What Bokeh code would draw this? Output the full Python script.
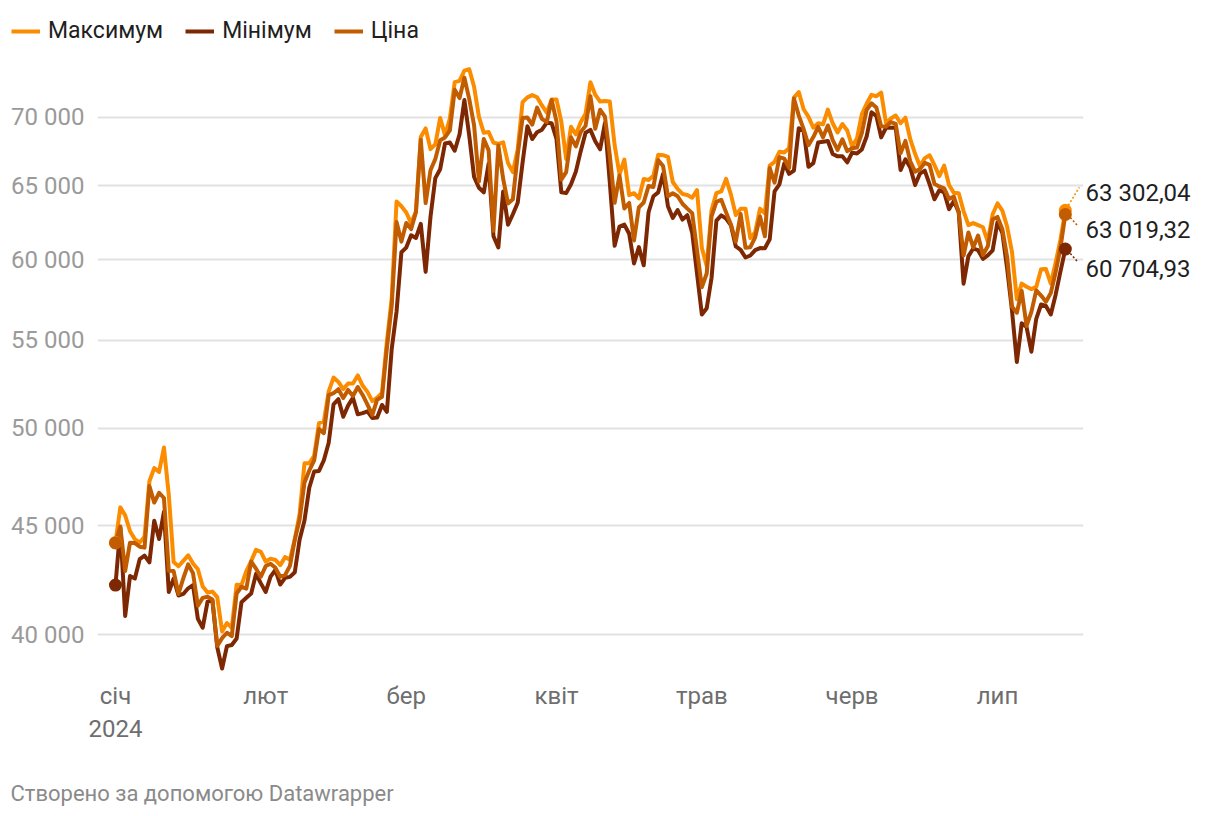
import math
import pandas as pd
from bokeh.plotting import figure
from bokeh.layouts import column
from bokeh.models import Range1d, FixedTicker, Legend, LegendItem, LogAxis, Label
from bokeh.embed import file_html
from bokeh.resources import INLINE

# ---------------- data (daily, 2024-01-01 .. 2024-07-15) ----------------
start_date = "2024-01-01"

high = [
    # Jan
    44184, 45900, 45503, 44729, 44340, 44187, 44468, 47218, 47890, 47696,
    48970, 46516, 43260, 43065, 43319, 43578, 43198, 42930, 42134, 41860,
    41900, 41650, 40129, 40498, 40285, 42209, 42197, 42842, 43305, 43838, 43745,
    # Feb
    43285, 43422, 43359, 43119, 43494, 43375, 44341, 45575, 48145, 48150,
    48531, 50285, 50368, 52043, 52821, 52573, 52166, 52483, 52489, 52945,
    52371, 52010, 51497, 51684, 51954, 54910, 57537, 63913, 63585,
    # Mar
    63155, 62434, 63230, 68537, 69170, 67637, 67985, 69958, 68673, 69916,
    72722, 72826, 73637, 73750, 72357, 70044, 68845, 68897, 68106, 68029,
    68133, 66623, 65976, 67625, 71170, 71535, 71711, 71546, 70913, 70355, 71366,
    # Apr
    71377, 69674, 66914, 69291, 68725, 69629, 70284, 72715, 71743, 71213,
    71256, 71222, 67931, 65824, 66878, 64355, 64486, 64125, 65481, 65419,
    65723, 67233, 67199, 67075, 65275, 64789, 64434, 64362, 64174, 64703,
    # May
    60780, 59602, 63320, 64494, 64610, 65494, 64390, 62986, 63404, 63420,
    61430, 61818, 63422, 63096, 66441, 66712, 67441, 67400, 67700, 71515,
    71946, 70623, 70041, 69220, 69562, 69484, 70597, 69556, 68866, 69504, 69018,
    # Jun
    67839, 68410, 70230, 71047, 71735, 71625, 71907, 69563, 69916, 70146,
    69562, 69977, 68367, 67294, 66402, 66983, 67188, 66479, 65695, 66438,
    65068, 64513, 64491, 63255, 62293, 62434, 62293, 62153, 61197, 63036,
    # Jul
    63777, 63285, 62188, 60499, 57497, 58475, 58276, 58131, 58269, 59400,
    59404, 58483, 59821, 61329, 63302.04,
]

low = [
    # Jan
    42196, 44900, 40813, 42614, 42500, 43398, 43565, 43244, 45244, 44355,
    45678, 41884, 42489, 41724, 41794, 42050, 42200, 40683, 40297, 41447,
    41500, 39450, 38555, 39500, 39550, 39825, 41424, 41620, 41818, 42711, 42276,
    # Feb
    41885, 42585, 42890, 42222, 42532, 42574, 42788, 44332, 45254, 46900,
    47716, 47746, 48300, 49225, 51315, 51600, 50626, 51243, 51676, 50763,
    50832, 50926, 50561, 50585, 51280, 50901, 54484, 56738, 60498,
    # Mar
    60802, 61614, 61435, 62386, 59224, 62848, 65551, 66184, 68053, 68131,
    67519, 68728, 71334, 68620, 65630, 64871, 64545, 66594, 61555, 60807,
    64611, 62330, 63038, 63825, 66650, 69335, 68381, 68892, 69076, 69601, 69562,
    # Apr
    68389, 64550, 64494, 65113, 66011, 67491, 68852, 69064, 68212, 67624,
    69571, 65254, 60919, 62205, 62333, 61716, 59768, 60833, 59651, 63172,
    64277, 64548, 65865, 63590, 62783, 63323, 62676, 62969, 61795, 59120,
    # May
    56555, 56937, 58849, 62599, 62955, 62746, 62285, 60877, 60649, 60152,
    60284, 60632, 60769, 60760, 61355, 64613, 65112, 66600, 65857, 66086,
    69191, 68977, 66356, 66622, 68128, 68183, 68233, 67279, 67113, 67118, 66676,
    # Jun
    67386, 67316, 67612, 68564, 70390, 70119, 68507, 69222, 69225, 69232,
    66123, 66902, 66304, 65057, 65872, 66085, 65104, 64066, 64693, 64547,
    63379, 63944, 63180, 58474, 60239, 60739, 60632, 60063, 60293, 60616,
    # Jul
    62495, 61780, 59419, 56777, 53717, 56018, 55793, 54321, 56290, 57170,
    57079, 56554, 57779, 59262, 60704.93,
]

price = [
    # Jan
    44168, 44958, 42848, 44180, 44162, 43989, 43943, 46970, 46139, 46627,
    46368, 42853, 42842, 41796, 42511, 43155, 42742, 41263, 41618, 41665,
    41545, 39508, 39845, 40077, 39934, 41816, 42120, 42035, 43288, 42952, 42582,
    # Feb
    43075, 43185, 42992, 42583, 42658, 43084, 44318, 45301, 47147, 47771,
    48293, 49958, 49742, 51826, 51938, 52160, 51663, 52122, 51779, 52284,
    51839, 51304, 50731, 51572, 51733, 54522, 57085, 62504, 61198,
    # Mar
    62440, 62029, 63168, 68330, 63801, 66107, 66925, 68300, 68499, 69020,
    72123, 71481, 73083, 71397, 69403, 65315, 68391, 67548, 61912, 67913,
    65491, 63778, 64062, 67234, 69958, 69987, 69456, 70744, 69893, 69646, 71334,
    # Apr
    69703, 65447, 65981, 68508, 67837, 68896, 69362, 71632, 69139, 70587,
    70060, 67195, 63821, 65738, 63426, 63811, 61276, 63512, 63843, 64994,
    64927, 66837, 66408, 64277, 64482, 64276, 63756, 63420, 63114, 60636,
    # May
    58254, 59123, 62889, 63892, 64031, 63162, 62334, 61187, 63050, 60793,
    60826, 61484, 62886, 61552, 66267, 65232, 67051, 66941, 66278, 71448,
    70136, 69122, 67929, 68527, 69285, 68508, 69394, 68296, 67578, 68364, 67492,
    # Jun
    67707, 67751, 68804, 70567, 71082, 70757, 69342, 69306, 69648, 69507,
    67332, 68241, 66756, 66012, 66191, 66639, 66490, 65140, 64960, 64828,
    64096, 64252, 63180, 60277, 61804, 60811, 61604, 60320, 60887, 62678,
    # Jul
    62851, 62029, 60173, 57035, 56662, 58009, 55857, 56714, 58052, 57725,
    57339, 57889, 59204, 60797, 63019.32,
]

series_names = ["Максимум", "Мінімум", "Ціна"]
series_colors = ["#fb8c00", "#7d2803", "#c25c00"]

y_ticks = [40000, 45000, 50000, 55000, 60000, 65000, 70000]
y_tick_labels = ["40 000", "45 000", "50 000", "55 000", "60 000", "65 000", "70 000"]

month_starts = ["2024-01-01", "2024-02-01", "2024-03-01", "2024-04-01",
                "2024-05-01", "2024-06-01", "2024-07-01"]
month_labels = ["січ\n2024", "лют", "бер", "квіт", "трав", "черв", "лип"]

footer_text = "Створено за допомогою Datawrapper"

# ---------------- styling / layout ----------------
FONT = "Roboto"
W = 1215
LEG_H = 60          # legend strip (page y 0..60)
FRAME_H = 615       # plot area (page y 60..675)
MAIN_H = 710        # main figure (page y 60..770)
FOOT_H = 46         # footer strip (page y 770..816)
FRAME_L, FRAME_R = 97, 1083
PX_PER_LN = FRAME_H / math.log(74448 / 38264)
PX_PER_DAY = (FRAME_R - FRAME_L) / (199.75 + 3.71)

dates = pd.date_range(start_date, periods=len(price), freq="D")
day = [(d - dates[0]).days for d in dates]
month_pos = [(pd.Timestamp(m) - dates[0]).days for m in month_starts]


def strip(height):
    f = figure(width=W, height=height, x_range=Range1d(0, W), y_range=Range1d(0, height),
               x_axis_location=None, y_axis_location=None, output_backend="svg",
               toolbar_location=None, min_border=0, min_border_left=0, min_border_right=0,
               min_border_top=0, min_border_bottom=0, frame_align=False,
               background_fill_color="white", border_fill_color="white")
    f.outline_line_color = None
    f.grid.visible = False
    return f


# ---- legend strip ----
lf = strip(LEG_H)
# legend swatches: renderers with a point placed outside the visible strip
leg_renderers = [lf.line(x=[-50, -40], y=[-50, -50], line_color=c, line_width=4)
                 for c in series_colors]
legend = Legend(
    items=[LegendItem(label=n, renderers=[r]) for n, r in zip(series_names, leg_renderers)],
    orientation="horizontal", location=(11, 16),
    label_text_font=FONT, label_text_font_size="23px", label_text_color="#1f1f1f",
    glyph_width=29, glyph_height=24, label_standoff=8, spacing=22,
    padding=0, margin=0, border_line_alpha=0, background_fill_alpha=0,
)
lf.add_layout(legend, "center")

# ---- main chart ----
p = figure(
    width=W, height=MAIN_H,
    x_range=Range1d(-3.71, 199.75),
    y_range=Range1d(38264, 74448),
    y_axis_type="log",
    output_backend="svg", toolbar_location=None, frame_align=False,
    min_border_left=FRAME_L, min_border_right=W - FRAME_R, min_border_top=0,
    min_border_bottom=MAIN_H - FRAME_H,
    background_fill_color="white", border_fill_color="white",
)
p.outline_line_color = None

p.yaxis.ticker = FixedTicker(ticks=y_ticks, minor_ticks=[])
p.yaxis.major_label_overrides = {t: l for t, l in zip(y_ticks, y_tick_labels)}
p.yaxis.axis_line_color = None
p.yaxis.major_tick_line_color = None
p.yaxis.minor_tick_line_color = None
p.yaxis.major_tick_out = 0
p.yaxis.major_label_standoff = 13
p.yaxis.major_label_text_font = FONT
p.yaxis.major_label_text_font_size = "24px"
p.yaxis.major_label_text_color = "#9a9a9a"

p.xaxis.ticker = FixedTicker(ticks=month_pos, minor_ticks=[])
p.xaxis.major_label_overrides = {t: l for t, l in zip(month_pos, month_labels)}
p.xaxis.axis_line_color = None
p.xaxis.major_tick_line_color = None
p.xaxis.minor_tick_line_color = None
p.xaxis.major_tick_out = 0
p.xaxis.major_label_standoff = 6
p.xaxis.major_label_text_font = FONT
p.xaxis.major_label_text_font_size = "24px"
p.xaxis.major_label_text_color = "#6e6e6e"

p.xgrid.grid_line_color = None
p.ygrid.ticker = FixedTicker(ticks=y_ticks, minor_ticks=[])
p.ygrid.grid_line_color = "#e2e2e2"
p.ygrid.grid_line_width = 2

series = [high, low, price]
for vals, col in zip(series, series_colors):
    p.line(day, vals, line_color=col, line_width=4, line_join="round", line_cap="round")

for vals, col in zip(series, series_colors):
    p.scatter([day[0], day[-1]], [vals[0], vals[-1]], size=13, fill_color=col,
              line_color=col, line_width=0)

# end-value labels: a right-hand axis whose ticks sit next to the last points
label_dy = [-17.8, 19.5, 16.0]            # label shift (px) for max, min, price
leader = [((3, -5), (14, -23)), ((5, 4.5), (13, 13.5)), ((5, 3), (13, 12))]
for vals, col, (a, b) in zip(series, series_colors, leader):
    v = vals[-1]
    p.segment(x0=[day[-1] + a[0] / PX_PER_DAY], y0=[v * math.exp(-a[1] / PX_PER_LN)],
              x1=[day[-1] + b[0] / PX_PER_DAY], y1=[v * math.exp(-b[1] / PX_PER_LN)],
              line_color=col, line_width=1.6, line_dash="2 2")

def fmt(v):
    return f"{v:,.2f}".replace(",", " ").replace(".", ",")

end_ticks = [s[-1] * math.exp(-dy / PX_PER_LN) for s, dy in zip(series, label_dy)]
end_axis = LogAxis(
    ticker=FixedTicker(ticks=end_ticks, minor_ticks=[]),
    major_label_overrides={t: fmt(s[-1]) for t, s in zip(end_ticks, series)},
    axis_line_color=None, major_tick_line_color=None, minor_tick_line_color=None,
    major_tick_out=0, major_label_standoff=2,
    major_label_text_font=FONT, major_label_text_font_size="24px",
    major_label_text_color="#1f1f1f",
)
p.add_layout(end_axis, "right")

# ---- footer strip ----
ff = strip(FOOT_H)
ff.add_layout(Label(x=10, y=FOOT_H / 2, text=footer_text, text_font=FONT,
                    text_font_size="22px", text_color="#8a8a8a",
                    text_baseline="middle", text_align="left"))

layout = column(lf, p, ff, spacing=0)
open("out.html", "w").write(file_html(layout, INLINE))
